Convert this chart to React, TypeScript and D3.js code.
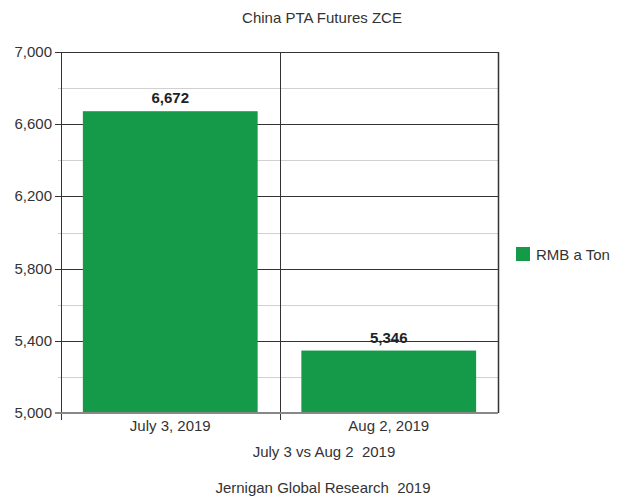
import { useRef, useEffect } from "react";
import * as d3 from "d3";

const categories = ["July 3, 2019", "Aug 2, 2019"];
const values = [6672, 5346];
const majorTicks = [5000, 5400, 5800, 6200, 6600, 7000];
const minorTicks = [5200, 5600, 6000, 6400, 6800];
const seriesName = "RMB a Ton";
const title = "China PTA Futures ZCE";
const xTitle = "July 3 vs Aug 2  2019";
const footer = "Jernigan Global Research  2019";

const App = () => {
  const svgRef = useRef<SVGSVGElement>(null);

  useEffect(() => {
    const svg = d3.select(svgRef.current);
    svg.selectAll("*").remove();

    const width = 623;
    const height = 496;
    const margin = { top: 52, right: 125, bottom: 83, left: 61 };
    const font = "'Liberation Sans', Arial, sans-serif";
    const fs = 15;
    const green = "#159a4a";
    const textColor = "#333";

    const x = d3
      .scaleBand()
      .domain(categories)
      .range([margin.left, width - margin.right])
      .paddingInner(0.2)
      .paddingOuter(0.1);

    const y = d3
      .scaleLinear()
      .domain([5000, 7000])
      .range([height - margin.bottom, margin.top]);

    const left = margin.left;
    const right = width - margin.right;
    const bottom = height - margin.bottom;

    // minor gridlines
    svg
      .append("g")
      .selectAll("line")
      .data(minorTicks)
      .join("line")
      .attr("x1", left - 3)
      .attr("x2", right)
      .attr("y1", (d) => Math.round(y(d)) + 0.5)
      .attr("y2", (d) => Math.round(y(d)) + 0.5)
      .attr("stroke", "#d0d0d0")
      .attr("stroke-width", 1);

    // major gridlines + ticks
    svg
      .append("g")
      .selectAll("line")
      .data(majorTicks.filter((d) => d !== 5000))
      .join("line")
      .attr("x1", left - 6)
      .attr("x2", right)
      .attr("y1", (d) => Math.round(y(d)) + 0.5)
      .attr("y2", (d) => Math.round(y(d)) + 0.5)
      .attr("stroke", "#333")
      .attr("stroke-width", 1);

    // category dividers
    const step = x.step();
    const dividers = [left, left + step, right];
    svg
      .append("g")
      .selectAll("line")
      .data(dividers)
      .join("line")
      .attr("x1", (d) => Math.round(d) + 0.5)
      .attr("x2", (d) => Math.round(d) + 0.5)
      .attr("y1", margin.top)
      .attr("y2", (d, i) => (i < 2 ? bottom + 7 : bottom))
      .attr("stroke", "#333")
      .attr("stroke-width", (d, i) => (i === 2 ? 1.5 : 1));

    // bars
    svg
      .append("g")
      .selectAll("rect")
      .data(values)
      .join("rect")
      .attr("x", (d, i) => x(categories[i])!)
      .attr("y", (d) => y(d))
      .attr("width", x.bandwidth())
      .attr("height", (d) => bottom - y(d))
      .attr("fill", green);

    // bottom axis line
    svg
      .append("line")
      .attr("x1", left - 6)
      .attr("x2", right)
      .attr("y1", bottom)
      .attr("y2", bottom)
      .attr("stroke", "#888")
      .attr("stroke-width", 2);

    // bar value labels
    svg
      .append("g")
      .selectAll("text")
      .data(values)
      .join("text")
      .attr("x", (d, i) => x(categories[i])! + x.bandwidth() / 2)
      .attr("y", (d) => y(d) - 8)
      .attr("text-anchor", "middle")
      .attr("font-family", font)
      .attr("font-size", fs)
      .attr("font-weight", "bold")
      .attr("fill", "#222")
      .text((d) => d3.format(",")(d));

    // y tick labels
    svg
      .append("g")
      .selectAll("text")
      .data(majorTicks)
      .join("text")
      .attr("x", left - 9)
      .attr("y", (d) => y(d) + 5)
      .attr("text-anchor", "end")
      .attr("font-family", font)
      .attr("font-size", fs)
      .attr("fill", textColor)
      .text((d) => d3.format(",")(d));

    // x tick labels
    svg
      .append("g")
      .selectAll("text")
      .data(categories)
      .join("text")
      .attr("x", (d) => x(d)! + x.bandwidth() / 2)
      .attr("y", bottom + 18)
      .attr("text-anchor", "middle")
      .attr("font-family", font)
      .attr("font-size", fs)
      .attr("fill", textColor)
      .text((d) => d);

    const addText = (t: string, tx: number, ty: number) =>
      svg
        .append("text")
        .attr("x", tx)
        .attr("y", ty)
        .attr("text-anchor", "middle")
        .attr("font-family", font)
        .attr("font-size", fs)
        .attr("fill", textColor)
        .attr("xml:space", "preserve")
        .style("white-space", "pre")
        .text(t);

    addText(title, 322, 23);
    addText(xTitle, 324, 457);
    addText(footer, 323, 493);

    // legend
    const legend = svg.append("g").attr("transform", "translate(516,247)");
    legend.append("rect").attr("width", 14).attr("height", 14).attr("fill", green);
    legend
      .append("text")
      .attr("x", 20)
      .attr("y", 13)
      .attr("font-family", font)
      .attr("font-size", fs)
      .attr("fill", textColor)
      .text(seriesName);
  }, []);

  return (
    <svg
      ref={svgRef}
      width={623}
      height={496}
      style={{ position: "absolute", left: 0, top: 0, background: "#fff" }}
    />
  );
};

export default App;
